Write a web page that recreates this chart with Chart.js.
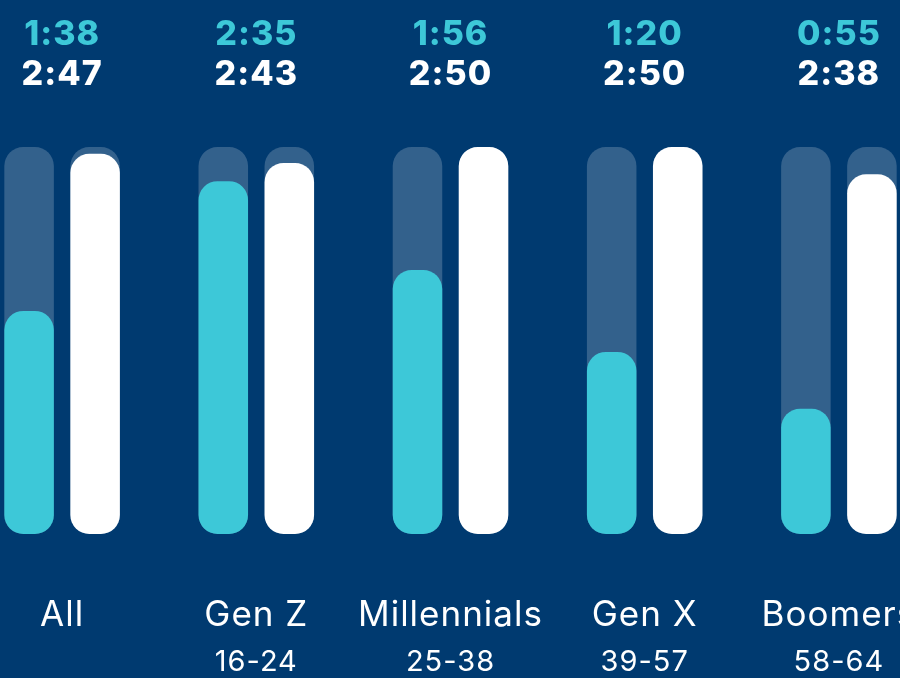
<!DOCTYPE html>
<html>
<head>
<meta charset="utf-8">
<script src="https://cdn.jsdelivr.net/npm/chart.js@4/dist/chart.umd.min.js"></script>
<style>
  html, body { margin: 0; padding: 0; background: #003a70; overflow: hidden; }
  #wrap { position: relative; width: 900px; height: 678px; overflow: hidden; }
  #Chart { position: absolute; left: -35px; top: 0; }
</style>
</head>
<body>
<div id="wrap"><canvas id="Chart" width="971" height="678"></canvas></div>
<script>
const groups = ["All", "Gen Z", "Millennials", "Gen X", "Boomers"];
const ageRanges = ["", "16-24", "25-38", "39-57", "58-64"];
// times in seconds
const firstTimes = [98, 155, 116, 80, 55];     // 1:38 2:35 1:56 1:20 0:55
const secondTimes = [167, 163, 170, 170, 158]; // 2:47 2:43 2:50 2:50 2:38
const scaleMax = 170;                          // 2:50, full track height

const cyan = "#3dc8d8";
const track = "rgba(255,255,255,0.2)";

function fmtTime(s)
{
    return Math.floor(s / 60) + ":" + String(s % 60).padStart(2, "0");
}

// m:ss values above each group, plus a bit of tracking on all text
const timeLabels = {
    id: "timeLabels",
    beforeDraw(chart) {
        chart.ctx.letterSpacing = "1px";
    },
    afterDraw(chart) {
        const ctx = chart.ctx;
        const x = chart.scales.x;
        ctx.save();
        ctx.font = "800 34px Inter";
        ctx.textAlign = "center";
        ctx.textBaseline = "middle";
        for (let i = 0; i < groups.length; i++) {
            let px = x.getPixelForValue(i);
            ctx.fillStyle = cyan;
            ctx.fillText(fmtTime(firstTimes[i]), px, 35);
            ctx.fillStyle = "#ffffff";
            ctx.fillText(fmtTime(secondTimes[i]), px, 75);
        }
        ctx.restore();
        ctx.letterSpacing = "0px";
    }
};

// fixed axis heights, no side padding for the wide labels
function fixAxis(h)
{
    return function(scale) {
        scale.height = h;
        scale.paddingLeft = 0;
        scale.paddingRight = 0;
    };
}

let barOpts = {
    categoryPercentage: 0.68,
    barPercentage: 0.75,
    borderRadius: 19,
    borderSkipped: false,
    xAxisID: "x"
};

const ctx = document.getElementById("Chart");
let myChart = new Chart(ctx, {
    type: "bar",
    data: {
        labels: groups,
        datasets: [
            Object.assign({ data: firstTimes, backgroundColor: cyan, stack: "a", order: 0 }, barOpts),
            Object.assign({ data: secondTimes, backgroundColor: "#ffffff", stack: "b", order: 0 }, barOpts),
            Object.assign({ data: groups.map(() => scaleMax), backgroundColor: track, stack: "a", order: 1 }, barOpts),
            Object.assign({ data: groups.map(() => scaleMax), backgroundColor: track, stack: "b", order: 1 }, barOpts)
        ]
    },
    options: {
        responsive: false,
        animation: false,
        layout: { padding: { top: 147, bottom: 1, left: 0, right: 0 } },
        plugins: {
            legend: { display: false },
            tooltip: { enabled: false }
        },
        scales: {
            y: {
                display: false,
                stacked: false,
                min: 0,
                max: scaleMax
            },
            x: {
                stacked: true,
                weight: 0,
                grid: { display: false },
                border: { display: false },
                afterFit: fixAxis(100),
                ticks: {
                    color: "#ffffff",
                    font: { family: "Inter", size: 35, lineHeight: 1.2 },
                    padding: 52,
                    autoSkip: false,
                    maxRotation: 0,
                    minRotation: 0
                }
            },
            x2: {
                type: "category",
                position: "bottom",
                weight: 1,
                grid: { display: false },
                border: { display: false },
                afterFit: fixAxis(43),
                ticks: {
                    color: "#ffffff",
                    font: { family: "Inter", size: 29, lineHeight: 1.2 },
                    padding: 3,
                    autoSkip: false,
                    maxRotation: 0,
                    minRotation: 0,
                    callback: function(v, i) { return ageRanges[i]; }
                }
            }
        }
    },
    plugins: [timeLabels]
});
</script>
</body>
</html>
